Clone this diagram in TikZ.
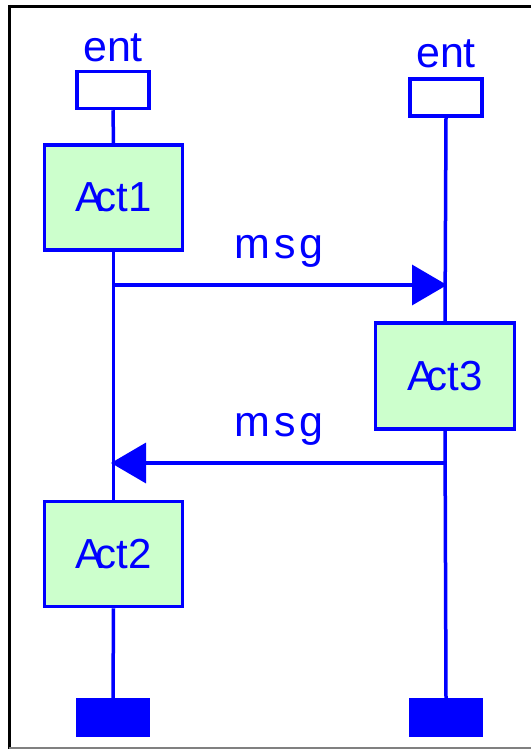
\documentclass[tikz,border=0pt]{standalone}
\usepackage{fontspec}
\setmainfont{Liberation Sans}
\newfontfamily\msgfont[LetterSpace=10]{Liberation Sans}
\usetikzlibrary{arrows.meta}
\definecolor{umlblue}{RGB}{0,0,255}
\definecolor{actgreen}{RGB}{204,255,204}
\tikzset{
  entbox/.style={draw=umlblue, line width=3.5pt, fill=white, minimum width=72pt, minimum height=37pt, inner sep=0pt},
  actbox/.style={draw=umlblue, line width=3.5pt, fill=actgreen, minimum width=138pt, minimum height=105pt, inner sep=0pt, text=umlblue, font=\fontsize{42}{46}\selectfont},
  endbox/.style={draw=umlblue, line width=1pt, fill=umlblue, minimum width=73pt, minimum height=38pt, inner sep=0pt},
  lifeline/.style={draw=umlblue, line width=3.5pt},
  msgline/.style={draw=umlblue, line width=3.5pt, -{Triangle[length=35pt, width=40pt]}},
  enttext/.style={text=umlblue, font=\fontsize{43}{46}\selectfont, anchor=base, inner sep=0pt},
  msgtext/.style={text=umlblue, font=\msgfont\fontsize{43}{46}\selectfont, anchor=base, inner sep=0pt}
}
\begin{document}
\begin{tikzpicture}[x=1pt, y=-1pt]
\useasboundingbox (0,0) rectangle (531,749);
% frame
\draw[black, line width=3pt] (9,6.5) -- (531,6.5);
\draw[black, line width=3pt] (9,5) -- (9,749);
\draw[gray, line width=1.5pt] (9,748) -- (531,748);
% left lifeline
\node[enttext] (e1t) at (113,62) {ent};
\node[entbox] (e1) at (113,90) {};
\node[actbox] (a1) at (113.5,197.5) {A\kern-0.2em ct1};
\node[actbox] (a2) at (113.5,554) {A\kern-0.2em ct2};
\node[endbox] (z1) at (113,717.5) {};
% right lifeline
\node[enttext] (e2t) at (446,68) {ent};
\node[entbox] (e2) at (446,97.5) {};
\node[actbox, minimum width=139pt, minimum height=106pt] (a3) at (445,376) {A\kern-0.2em ct3};
\node[endbox] (z2) at (446,717.5) {};
% lifelines
\draw[lifeline] (e1.south) -- (a1.north);
\draw[lifeline] (a1.south) -- (a2.north);
\draw[lifeline] (a2.south) -- (z1.north);
\draw[lifeline] (e2.south) -- (a3.north);
\draw[lifeline] (a3.south) -- (z2.north);
% messages
\coordinate (m1s) at (113,285);
\coordinate (m1e) at (447,285);
\coordinate (m2s) at (446,463);
\coordinate (m2e) at (111,463);
\draw[msgline] (m1s) -- (m1e);
\draw[msgline] (m2s) -- (m2e);
\node[msgtext] (l1) at (279,258) {msg};
\node[msgtext] (l2) at (279,436) {msg};
\end{tikzpicture}
\end{document}
